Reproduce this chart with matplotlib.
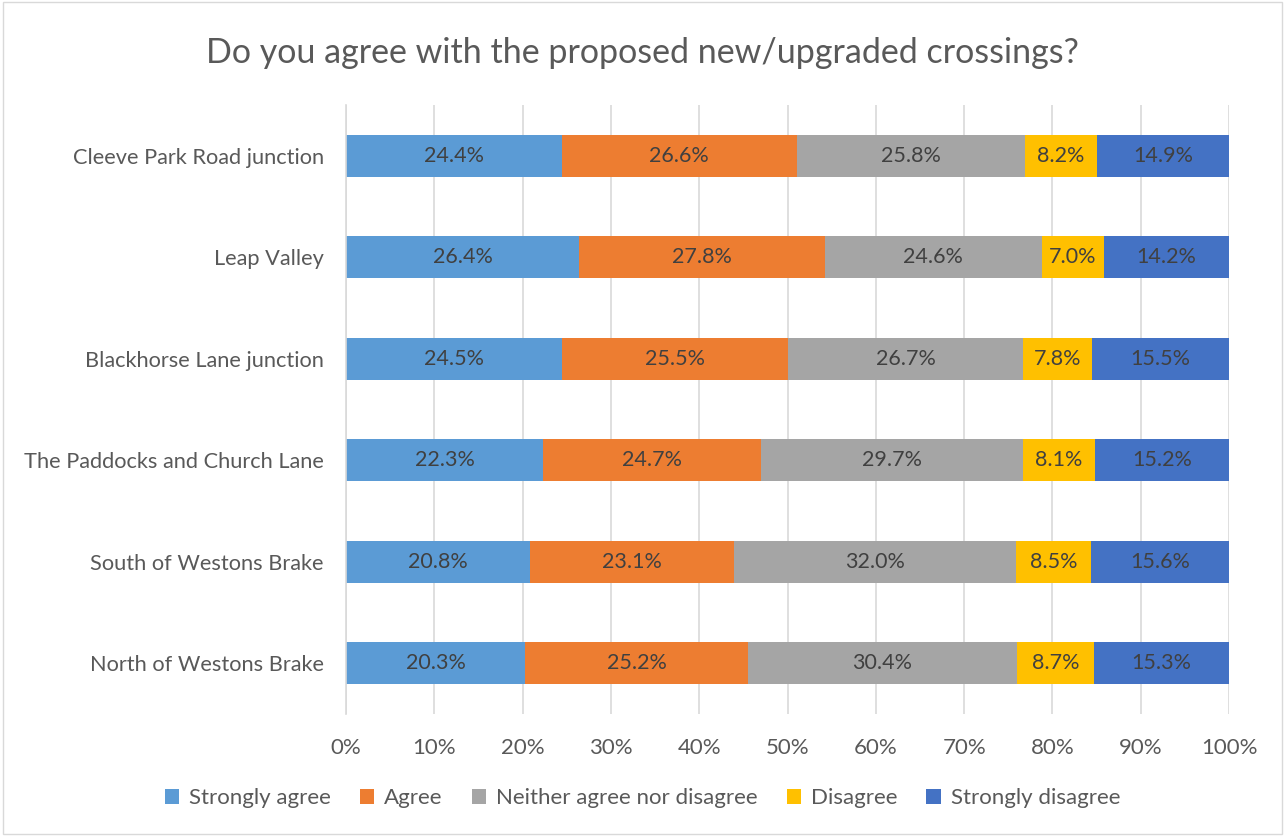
import matplotlib
matplotlib.use("Agg")
import matplotlib.pyplot as plt
from matplotlib.patches import Rectangle

categories = [
    "Cleeve Park Road junction",
    "Leap Valley",
    "Blackhorse Lane junction",
    "The Paddocks and Church Lane",
    "South of Westons Brake",
    "North of Westons Brake",
]
series_names = ["Strongly agree", "Agree", "Neither agree nor disagree",
                "Disagree", "Strongly disagree"]
strongly_agree = [24.4, 26.4, 24.5, 22.3, 20.8, 20.3]
agree = [26.6, 27.8, 25.5, 24.7, 23.1, 25.2]
neither = [25.8, 24.6, 26.7, 29.7, 32.0, 30.4]
disagree = [8.2, 7.0, 7.8, 8.1, 8.5, 8.7]
strongly_disagree = [14.9, 14.2, 15.5, 15.2, 15.6, 15.3]
x_ticks = [0, 10, 20, 30, 40, 50, 60, 70, 80, 90, 100]

colors = ["#5B9BD5", "#ED7D31", "#A5A5A5", "#FFC000", "#4472C4"]
text_col = "#595959"

plt.rcParams["font.family"] = ["Lato", "DejaVu Sans"]

fig = plt.figure(figsize=(12.85, 8.36), dpi=100)
ax = fig.add_axes([0.2693, 0.1459, 0.6872, 0.7285])

series = [strongly_agree, agree, neither, disagree, strongly_disagree]
rows = list(range(len(categories)))
left = [0.0] * len(categories)
for name, vals, col in zip(series_names, series, colors):
    # normalise each row so the stack spans exactly 100%
    widths = []
    for i, v in enumerate(vals):
        total = sum(s[i] for s in series)
        widths.append(v / total * 100)
    bars = ax.barh(rows, widths, left=left, height=0.41, color=col,
                   label=name, zorder=2)
    for b, v in zip(bars, vals):
        ax.text(b.get_x() + b.get_width() / 2, b.get_y() + b.get_height() / 2,
                f"{v:.1f}%", ha="center", va="center", fontsize=15.5,
                color="#404040", zorder=3)
    left = [l + w for l, w in zip(left, widths)]

ax.set_xlim(0, 100)
ax.set_ylim(len(categories) - 0.5, -0.5)
ax.set_yticks(rows)
ax.set_yticklabels(categories, fontsize=15.7, color=text_col)
ax.set_xticks(x_ticks)
ax.set_xticklabels([f"{t}%" for t in x_ticks], fontsize=16, color=text_col)
ax.tick_params(axis="both", length=0)
ax.tick_params(axis="y", pad=16)
ax.tick_params(axis="x", pad=17)
ax.grid(axis="x", color="#D9D9D9", lw=1.2, zorder=0)
for s in ["top", "right", "bottom"]:
    ax.spines[s].set_visible(False)
ax.spines["left"].set_color("#D9D9D9")
ax.spines["left"].set_linewidth(1.2)

fig.text(0.5, 0.937, "Do you agree with the proposed new/upgraded crossings?",
         ha="center", va="center", fontsize=24.5, color=text_col)

leg = fig.legend(loc="center", bbox_to_anchor=(0.5, 0.045), ncol=5,
                 frameon=False, fontsize=16, handlelength=0.65,
                 handleheight=0.65, columnspacing=1.3, handletextpad=0.45)
for t in leg.get_texts():
    t.set_color(text_col)

fig.patches.append(Rectangle((0.002, 0.002), 0.996, 0.996, transform=fig.transFigure,
                             fill=False, edgecolor="#D9D9D9", lw=1))

fig.savefig("out.png", dpi=100)
